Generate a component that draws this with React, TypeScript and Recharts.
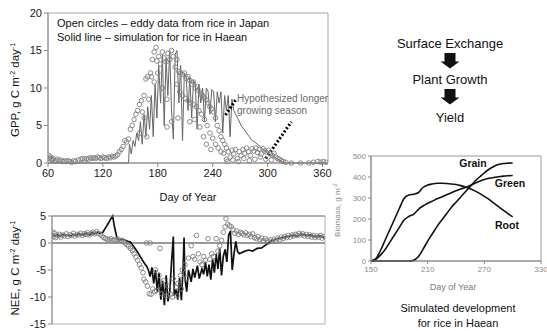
import React from "react";
import {
  ComposedChart,
  LineChart,
  Line,
  Scatter,
  XAxis,
  YAxis,
  ReferenceArea,
  ReferenceLine,
} from "recharts";

// tick labels
const dayTicks = [60, 120, 180, 240, 300, 360];
const gppTicks = [0, 5, 10, 15, 20];
const neeTicks = [-15, -10, -5, 0, 5];
const bioDayTicks = [150, 210, 270, 330];
const bioTicks = [0, 100, 200, 300, 400, 500];

// GPP simulation for Haean, [day, g C m-2 day-1]
const gppSim: [number, number][] = [
  [60, 0], [148, 0], [149, 2.5], [151, 1.2], [153, 3], [155, 2.2], [157, 4], [159, 3],
  [161, 5.5], [163, 2.5], [165, 6.5], [167, 3.5], [169, 7.5], [171, 4.5], [173, 9],
  [175, 3.5], [177, 10.5], [179, 6], [181, 13], [183, 8], [185, 14.5], [187, 5],
  [189, 14], [191, 9], [193, 15], [195, 7], [197, 3.2], [199, 14.5], [201, 15],
  [203, 8], [205, 13], [207, 3], [209, 12], [211, 11.5], [213, 7], [215, 11.5],
  [217, 6], [219, 11], [221, 10.5], [223, 4.5], [225, 10.5], [227, 8], [229, 10],
  [231, 5.5], [233, 10], [235, 9.5], [237, 6.5], [239, 9.8], [241, 9.5], [243, 5.5],
  [245, 9.5], [247, 8], [249, 9.5], [251, 4], [253, 9], [255, 7], [257, 9], [259, 3.5],
  [261, 8.5], [263, 7], [265, 6.5], [268, 5.8], [271, 5], [274, 4.5], [277, 4],
  [280, 3.5], [283, 3], [286, 2.8], [289, 2.5], [292, 2.2], [295, 1.8], [298, 1.5],
  [301, 1.2], [304, 1], [307, 0.8], [310, 0.6], [313, 0.4], [316, 0.2], [319, 0.05],
  [322, 0], [366, 0],
];

// GPP eddy data, rice in Japan
const gppEddy: [number, number][] = [
  [61, 1.0], [62, 0.6], [63, 0.8], [64, 0.5], [65, 0.4], [66, 0.6], [68, 0.3], [70, 0.5],
  [72, 0.3], [74, 0.4], [76, 0.2], [78, 0.3], [80, 0.2], [82, 0.3], [84, 0.2], [86, 0.1],
  [88, 0.3], [90, 0.2], [93, 0.4], [96, 0.5], [98, 0.6], [100, 0.4], [102, 0.6], [104, 0.5],
  [106, 0.7], [108, 0.6], [110, 0.7], [112, 0.6], [114, 0.8], [116, 0.7], [118, 0.6],
  [120, 0.8], [122, 0.7], [124, 0.6], [126, 0.8], [128, 0.7], [130, 0.9], [132, 0.8],
  [134, 0.9], [136, 1.1], [138, 1.5], [140, 1.8], [142, 2.2], [144, 3], [146, 2.8],
  [148, 3.2], [150, 4.5], [152, 5], [154, 5.8], [156, 6.5], [158, 7], [160, 7.8],
  [162, 8.3], [163, 6.8], [165, 9], [167, 11.2], [169, 11.5], [170, 8.5], [172, 12],
  [174, 13.8], [176, 14.8], [178, 15.4], [179, 13.6], [181, 14.2], [183, 13.2], [185, 14.8],
  [187, 14], [189, 13.5], [191, 14.6], [193, 13.8], [195, 15], [197, 14.2], [199, 12.8],
  [201, 13.8], [203, 12.2], [205, 12], [207, 11.8], [209, 12], [211, 11.3], [213, 11.5],
  [215, 11], [217, 10.5], [219, 10.8], [221, 10], [223, 10.2], [225, 9.6], [227, 9.2],
  [229, 9], [231, 8.7], [233, 8.4], [235, 8], [237, 7.5], [239, 7.2], [241, 6.8], [243, 6],
  [245, 5], [247, 4.3], [249, 3.5], [251, 3], [253, 2.5], [255, 2],
  [201, 10.5], [204, 9.5], [207, 9], [210, 8.6], [213, 8.3], [216, 8], [219, 7.8],
  [222, 7.5], [225, 7], [228, 6.5], [231, 5.8], [234, 5], [237, 4], [240, 3.3], [243, 2.5],
  [246, 2], [249, 1.5],
  [185, 10], [190, 8.5], [176, 10.8], [173, 11.5], [180, 12], [202, 6], [215, 5.5],
  [220, 5.8], [226, 4.8], [230, 3.5], [233, 2.5], [238, 1.8], [195, 5.5], [190, 4.8],
  [168, 3.5], [160, 4], [165, 6],
  [252, 1.3], [255, 0.5], [257, 1.5], [259, 0.8], [261, 1.7], [263, 1.2], [265, 1.8],
  [267, 0.6], [269, 1.5], [271, 1.0], [273, 1.8], [275, 1.3], [277, 2.0], [279, 1.5],
  [281, 1.0], [283, 1.9], [285, 1.6], [287, 2.0], [289, 1.4], [291, 1.8], [293, 1.2],
  [295, 1.9], [297, 1.6], [299, 1.4], [301, 1.7], [303, 1.2], [305, 1.0], [307, 1.3],
  [309, 0.8], [311, 0.6], [313, 0.5], [315, 0.3], [317, 0.2], [320, 0.1], [326, 0],
  [336, 0], [345, 0], [350, 0.1], [355, 0.2], [358, 0.1], [361, 0.2], [364, 0.1],
  [256, 0.2], [262, 0.4], [268, 0.2], [274, 0.6], [280, 0.3], [286, 0.5], [292, 0.8],
  [298, 0.5], [304, 0.4],
];

// hypothesized longer growing season (dotted)
const hypoEarly: [number, number][] = [[254, 6.4], [265, 8.4]];
const hypoLate: [number, number][] = [[298, 0.6], [326, 5.5]];

// NEE simulation
const neeSim: [number, number][] = [
  [60, 1.6], [63, 1.3], [66, 1.5], [69, 1.2], [72, 1.6], [75, 1.4], [78, 1.5], [81, 1.3],
  [84, 1.6], [87, 1.4], [90, 1.7], [93, 1.5], [96, 1.6], [99, 1.8], [102, 1.5], [105, 1.9],
  [108, 1.7], [111, 2], [114, 1.8], [117, 2], [120, 2.8], [123, 3.6], [126, 4.5], [128, 5],
  [130, 3], [133, 0.8], [136, 0.6], [139, 0.7], [142, 0.5], [145, 0.3], [148, 0.2],
  [151, -0.5], [154, -1.2], [157, -2], [160, -2.8], [163, -3.6], [166, -4.3], [168, -5],
  [170, -6.2], [172, -4.5], [174, -7.5], [176, -5], [178, -9], [180, -5.5], [182, -10.5],
  [184, -7], [186, -11.5], [188, -6], [190, -10.8], [192, -9], [194, -3.5], [196, 1.2],
  [197, -9.8], [199, -8.5], [201, -10.5], [203, -6.5], [205, -10.6], [207, -4.5], [208, 1],
  [209, -6.5], [211, -9], [213, -5], [216, -7.2], [218, -4.8], [220, -6.4], [223, -4.2],
  [225, -6.6], [228, -4.8], [230, -5.8], [232, -3.5], [234, -6.2], [236, -4], [238, -6.8],
  [240, -3], [242, -5.5], [244, -2], [246, -4.8], [248, -1], [250, -6], [252, -2.5],
  [254, -1.2], [256, -3.5], [258, 1.5], [260, 2.2], [262, -5], [264, -2], [266, 0.3],
  [268, -1.6], [270, -2], [275, -1.6], [280, -1.3], [285, -1.5], [290, -1], [295, -0.9],
  [300, -0.3], [305, 0.3], [310, 0.7], [315, 0.9], [320, 1.1], [325, 1.2], [330, 1.4],
  [335, 1.3], [340, 1.6], [345, 1.4], [350, 1.5], [355, 1.2], [360, 1.3], [365, 1.1],
];

// NEE eddy data
const neeEddy: [number, number][] = [
  [60, 1.5], [61, 2], [62, 1.2], [63, 1.8], [64, 1], [66, 1.4], [68, 1.6], [70, 1.1],
  [72, 1.5], [74, 1.3], [76, 1.7], [78, 1.2], [80, 1.5], [82, 1.4], [84, 1.8], [86, 1.3],
  [88, 1.6], [90, 1.5], [92, 1.8], [94, 1.4], [96, 1.7], [98, 1.6], [100, 1.9], [102, 1.5],
  [104, 1.8], [106, 2], [108, 1.7], [110, 2.1], [112, 1.8], [114, 1.6], [116, 1.3],
  [118, 1], [120, 0.8], [122, 0.7], [124, 0.6], [126, 0.8], [128, 0.5], [130, 0.6],
  [132, 0.5], [134, 0.7], [136, 0.4], [138, 0.5], [140, 0.2], [142, 0], [144, -0.3],
  [146, -0.6], [148, -1], [150, -1.4], [152, -2], [154, -2.6], [156, -3.2], [158, -4],
  [160, -4.6], [162, -5.5], [163, -6.7], [165, -7.2], [167, -8], [169, -9.4], [171, -9.5],
  [173, -8.5], [175, -9], [177, -8.8],
  [166, 0], [170, 0], [181, -1], [176, -5], [180, -6], [185, -7], [190, -8], [193, -9.5],
  [196, -6.6], [199, -8.2], [201, -7.5], [204, -6], [206, -5], [209, -4], [211, -6.5],
  [213, -2.8], [216, -0.5], [218, -2.5], [220, -3], [222, 1.4], [224, -2], [226, -3.5],
  [228, -4], [230, -2.5], [232, -3.2], [235, 0.8], [237, -3], [239, -2], [241, -2.5],
  [244, 0.8], [246, -1.5], [248, -0.5], [250, 0.5], [252, 2], [254, 3], [255, 4.5],
  [257, 3.5], [259, 3.2], [261, 3], [263, 2.5], [265, 1.8], [267, 2.2], [269, 1.6],
  [271, 2], [273, 1.8], [275, 1.5], [277, 1.9], [279, 1.4], [281, 1.6], [283, 1.2],
  [285, 1.7], [287, 1], [289, 0.8], [291, 1.2], [293, 0.6], [295, 0.9], [297, 0.4],
  [299, 0.8], [301, 0.5], [303, 0.2], [305, 0.6], [307, 0.3], [309, 0.7], [311, 0.4],
  [313, 0.9], [315, 0.6], [317, 1.1], [319, 0.8], [321, 1.2], [323, 1], [325, 1.4],
  [327, 1.1], [329, 1.5], [331, 1.3], [333, 1.6], [335, 1.4], [337, 1.8], [339, 1.5],
  [341, 1.7], [343, 1.3], [345, 1.6], [347, 1.2], [349, 1.5], [351, 1.1], [353, 1.4],
  [355, 1], [357, 1.3], [359, 1.1], [361, 1.4], [363, 0.9], [365, 1.2],
  [195, -10], [200, -9.8], [205, -8.5], [188, -9.8], [183, -9.4],
];

// simulated biomass, g m-2
const bioDays = [150, 155, 160, 165, 170, 175, 180, 185, 190, 195, 200, 205, 210, 215, 220, 225, 230, 235, 240, 245, 250, 255, 260, 265, 270, 275, 280, 285, 290, 295, 300];
const grainValues = [0, 0, 0, 0, 0, 0, 0, 0, 0, 3, 20, 55, 95, 130, 165, 195, 225, 255, 280, 305, 330, 355, 380, 400, 420, 437, 450, 459, 464, 466, 467];
const greenValues = [0, 8, 28, 55, 90, 125, 160, 195, 212, 222, 245, 262, 275, 285, 296, 305, 315, 325, 335, 343, 350, 360, 370, 380, 388, 394, 398, 401, 404, 406, 407];
const rootValues = [0, 10, 50, 100, 150, 200, 250, 298, 314, 318, 325, 350, 362, 367, 370, 370, 369, 367, 364, 359, 352, 344, 334, 322, 308, 293, 276, 259, 242, 226, 210];

const toPts = (arr: [number, number][]) => arr.map(([day, v]) => ({ day, v }));
const bioData = bioDays.map((day, i) => ({
  day,
  grain: grainValues[i],
  green: greenValues[i],
  root: rootValues[i],
}));

const OpenCircle = (props: any) => {
  const { cx, cy } = props;
  if (cx == null || cy == null) return null;
  return <circle cx={cx} cy={cy} r={2.3} fill="none" stroke="#808080" strokeWidth={0.9} />;
};

const font = '"Liberation Sans", Arial, sans-serif';

const Txt = ({ x, y, children, style }: any) => (
  <div
    style={{
      position: "absolute",
      left: x,
      top: y,
      transform: "translate(-50%, -50%)",
      whiteSpace: "nowrap",
      ...style,
    }}
  >
    {children}
  </div>
);

const Arrow = ({ x, y }: { x: number; y: number }) => (
  <svg style={{ position: "absolute", left: x, top: y }} width={20} height={16}>
    <polygon points="4.5,0 15.5,0 15.5,8.5 19.5,8.5 10,15.5 0.5,8.5 4.5,8.5" fill="#111" />
  </svg>
);

export default function App() {
  const axisGray = "#8a8a8a";
  return (
    <div
      style={{
        position: "absolute",
        left: 0,
        top: 0,
        width: 547,
        height: 331,
        background: "#fff",
        fontFamily: font,
        color: "#111",
        overflow: "hidden",
      }}
    >
      {/* GPP panel */}
      <div style={{ position: "absolute", left: 0, top: 0 }}>
        <ComposedChart width={335} height={200} margin={{ top: 13, right: 7, bottom: 7, left: 0 }}>
          <ReferenceArea x1={60} x2={366} y1={0} y2={20} fill="none" stroke="#a8a8a8" />
          <XAxis
            type="number"
            dataKey="day"
            domain={[60, 366]}
            ticks={dayTicks}
            interval={0}
            allowDataOverflow
            height={30}
            tickSize={4}
            tick={{ fontSize: 11, fill: "#1a1a1a" }}
            axisLine={{ stroke: axisGray }}
            tickLine={{ stroke: axisGray }}
          />
          <YAxis
            type="number"
            dataKey="v"
            domain={[0, 20]}
            ticks={gppTicks}
            interval={0}
            width={48}
            tickSize={4}
            tick={{ fontSize: 11, fill: "#1a1a1a" }}
            axisLine={{ stroke: axisGray }}
            tickLine={{ stroke: axisGray }}
          />
          <Scatter data={toPts(gppEddy)} dataKey="v" shape={<OpenCircle />} isAnimationActive={false} />
          <Line data={toPts(gppSim)} dataKey="v" type="linear" stroke="#666" strokeWidth={1} dot={false} isAnimationActive={false} />
          <Line data={toPts(hypoEarly)} dataKey="v" type="linear" stroke="#000" strokeWidth={3} strokeDasharray="2 2" dot={false} isAnimationActive={false} />
          <Line data={toPts(hypoLate)} dataKey="v" type="linear" stroke="#000" strokeWidth={3} strokeDasharray="2 2" dot={false} isAnimationActive={false} />
        </ComposedChart>
      </div>

      {/* NEE panel */}
      <div style={{ position: "absolute", left: 0, top: 200 }}>
        <ComposedChart width={335} height={145} margin={{ top: 10, right: 10, bottom: 21, left: 0 }}>
          <ReferenceArea x1={60} x2={366} y1={-15} y2={5} fill="none" stroke="#b5b5b5" />
          <ReferenceLine y={0} stroke="#9a9a9a" strokeWidth={2} />
          <XAxis
            type="number"
            dataKey="day"
            orientation="top"
            domain={[60, 366]}
            ticks={dayTicks}
            interval={0}
            allowDataOverflow
            height={6}
            tickSize={4}
            tick={false}
            axisLine={{ stroke: axisGray }}
            tickLine={{ stroke: axisGray }}
          />
          <YAxis
            type="number"
            dataKey="v"
            domain={[-15, 5]}
            ticks={neeTicks}
            interval={0}
            width={52}
            tickSize={4}
            tick={{ fontSize: 11, fill: "#1a1a1a" }}
            axisLine={{ stroke: axisGray }}
            tickLine={{ stroke: axisGray }}
          />
          <Scatter data={toPts(neeEddy)} dataKey="v" shape={<OpenCircle />} isAnimationActive={false} />
          <Line data={toPts(neeSim)} dataKey="v" type="linear" stroke="#111" strokeWidth={1.7} dot={false} isAnimationActive={false} />
        </ComposedChart>
      </div>

      {/* Biomass panel */}
      <div style={{ position: "absolute", left: 330, top: 140 }}>
        <LineChart width={217} height={140} data={bioData} margin={{ top: 16, right: 6, bottom: 4, left: 0 }}>
          <ReferenceArea x1={150} x2={330} y1={0} y2={500} fill="none" stroke="#9a9a9a" />
          <XAxis
            type="number"
            dataKey="day"
            domain={[150, 330]}
            ticks={bioDayTicks}
            interval={0}
            height={15}
            tickSize={3}
            tick={{ fontSize: 8, fill: "#8a8a8a" }}
            axisLine={{ stroke: axisGray }}
            tickLine={{ stroke: axisGray }}
          />
          <YAxis
            type="number"
            domain={[0, 500]}
            ticks={bioTicks}
            interval={0}
            width={41}
            tickSize={3}
            tick={{ fontSize: 8, fill: "#8a8a8a" }}
            axisLine={{ stroke: axisGray }}
            tickLine={{ stroke: axisGray }}
          />
          <Line dataKey="grain" type="monotone" stroke="#111" strokeWidth={1.6} dot={false} isAnimationActive={false} />
          <Line dataKey="green" type="monotone" stroke="#111" strokeWidth={1.6} dot={false} isAnimationActive={false} />
          <Line dataKey="root" type="monotone" stroke="#111" strokeWidth={1.6} dot={false} isAnimationActive={false} />
        </LineChart>
      </div>

      {/* GPP annotations */}
      <div style={{ position: "absolute", left: 57, top: 16, fontSize: 11, lineHeight: "14px" }}>
        Open circles – eddy data from rice in Japan
        <br />
        Solid line – simulation for rice in Haean
      </div>
      <div style={{ position: "absolute", left: 237, top: 93, fontSize: 10, lineHeight: "12px", color: "#6a6a6a" }}>
        Hypothesized longer
        <br />
        growing season
      </div>
      <Txt x={15} y={90} style={{ fontSize: 11.5, transform: "translate(-50%, -50%) rotate(-90deg)" }}>
        GPP, g C m<sup style={{ fontSize: 7 }}>-2</sup> day<sup style={{ fontSize: 7 }}>-1</sup>
      </Txt>
      <Txt x={188} y={197} style={{ fontSize: 11 }}>
        Day of Year
      </Txt>
      <Txt x={15} y={268} style={{ fontSize: 11.5, transform: "translate(-50%, -50%) rotate(-90deg)" }}>
        NEE, g C m<sup style={{ fontSize: 7 }}>-2</sup> day<sup style={{ fontSize: 7 }}>-1</sup>
      </Txt>

      {/* Flow diagram */}
      <Txt x={450} y={43} style={{ fontSize: 13 }}>
        Surface Exchange
      </Txt>
      <Arrow x={440} y={53} />
      <Txt x={450} y={79} style={{ fontSize: 13 }}>
        Plant Growth
      </Txt>
      <Arrow x={440} y={89} />
      <Txt x={450} y={117} style={{ fontSize: 13 }}>
        Yield
      </Txt>

      {/* Biomass annotations */}
      <Txt x={473} y={163} style={{ fontSize: 10.5, fontWeight: "bold" }}>
        Grain
      </Txt>
      <Txt x={510} y={183} style={{ fontSize: 10.5, fontWeight: "bold" }}>
        Green
      </Txt>
      <Txt x={507} y={225} style={{ fontSize: 10.5, fontWeight: "bold" }}>
        Root
      </Txt>
      <Txt x={337} y={210} style={{ fontSize: 8, color: "#8a8a8a", transform: "translate(-50%, -50%) rotate(-90deg)" }}>
        Biomass, g m<sup style={{ fontSize: 6 }}>-2</sup>
      </Txt>
      <Txt x={453} y={287} style={{ fontSize: 9, color: "#7a7a7a" }}>
        Day of Year
      </Txt>
      <Txt x={458} y={308} style={{ fontSize: 11 }}>
        Simulated development
      </Txt>
      <Txt x={458} y={323} style={{ fontSize: 11 }}>
        for rice in Haean
      </Txt>
    </div>
  );
}
